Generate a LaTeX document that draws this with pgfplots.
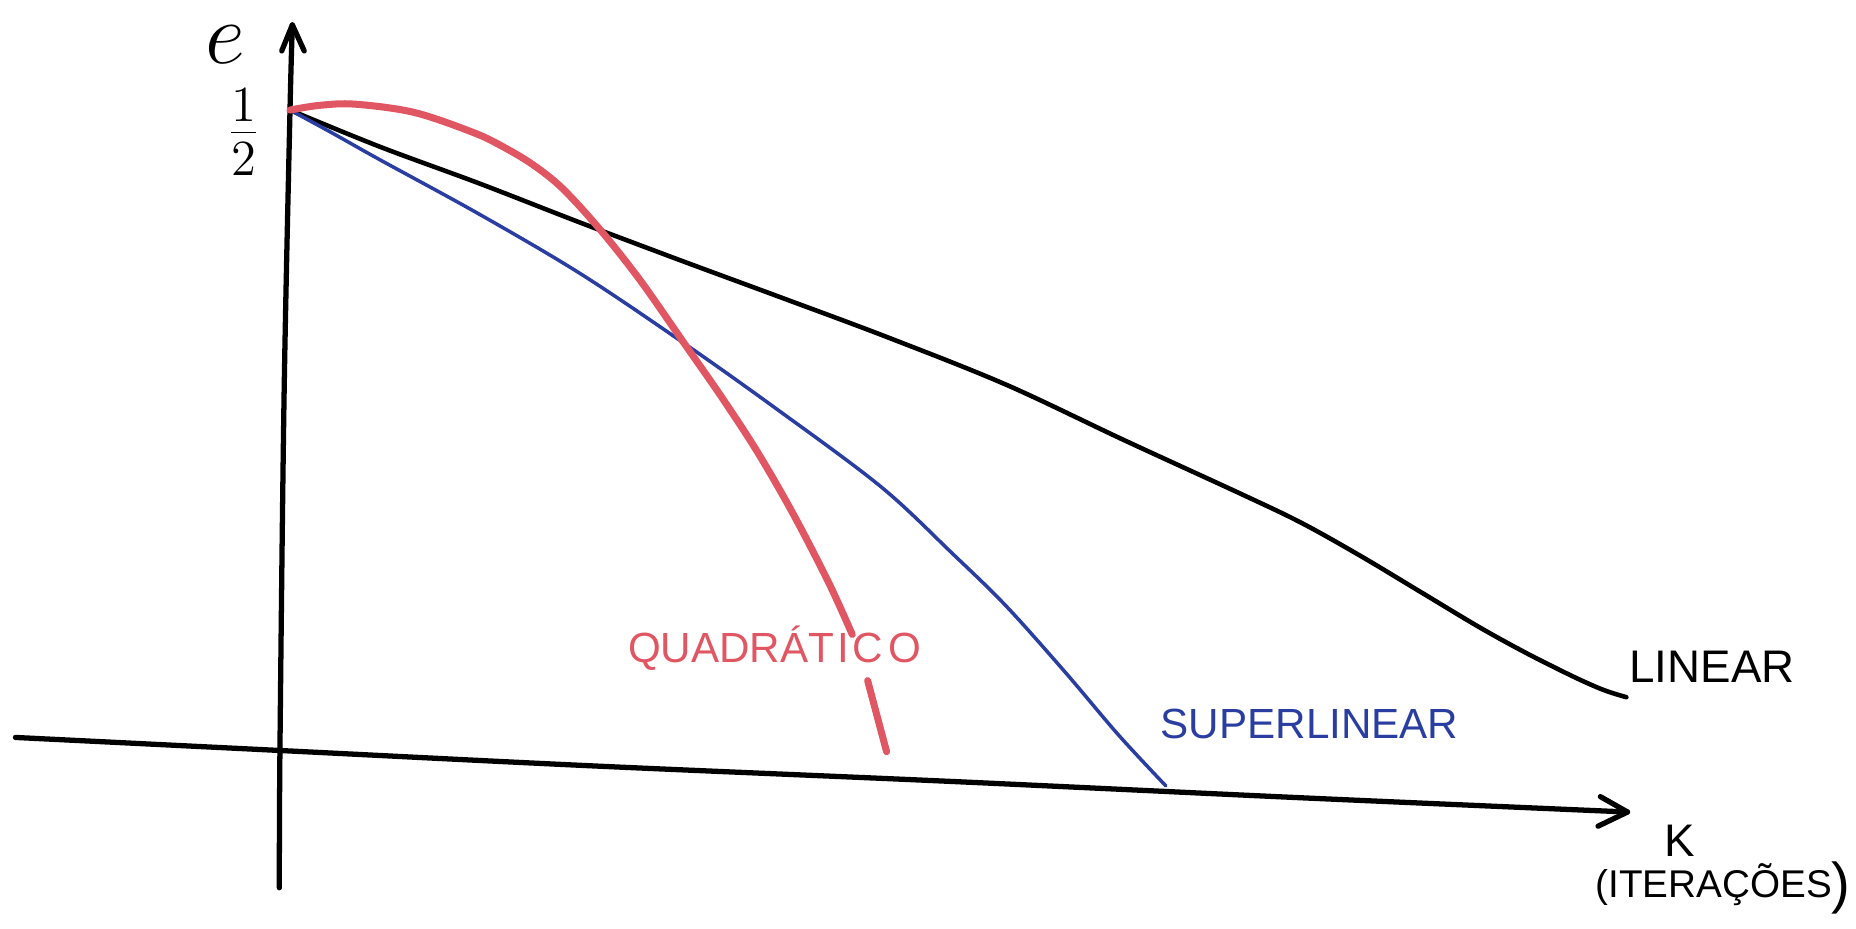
\documentclass[border=0pt]{standalone}
\usepackage{pgfplots}
\pgfplotsset{compat=1.18}
\usepackage{fontspec}
\setmainfont{Liberation Sans}
\definecolor{quadred}{RGB}{224,86,98}
\definecolor{superblue}{RGB}{42,62,162}

\begin{document}
\begin{tikzpicture}
\begin{axis}[
  width=18.56cm, height=9.28cm, scale only axis,
  xmin=0, xmax=1568, ymin=0, ymax=784,
  axis lines=none, clip=false,
  every axis plot/.append style={smooth, tension=0.55, line cap=round, line join=round},
]
\coordinate (bl) at (rel axis cs:0,0);
\coordinate (tr) at (rel axis cs:1,1);

% axes, drawn by hand
\addplot[black, line width=1.5pt] coordinates {(236,34) (236.5,150) (240,450) (245,691) (247,763)};
\addplot[black, line width=1.5pt, sharp plot] coordinates {(238,741) (247,763) (257,741)};
\addplot[black, line width=1.5pt] coordinates {(13,161) (236,150) (500,137) (800,124) (1100,110) (1375,98)};
\addplot[black, line width=1.5pt, sharp plot] coordinates {(1352,111) (1375,98) (1350,86)};

% linear convergence
\addplot[black, line width=1.3pt] coordinates {
  (245,691) (321,660) (405,629) (490,596) (575,564) (659,533)
  (750,499) (850,459) (950,412) (1050,366) (1100,342) (1150,314)
  (1200,284) (1250,254) (1290,232) (1330,212) (1355,201) (1374,195)};
% superlinear convergence
\addplot[superblue, line width=1.0pt] coordinates {
  (245,691) (280,672) (321,649) (405,603) (490,553) (575,496)
  (654,440) (744,373) (805,316) (850,272) (900,216) (945,163) (985,120)};
% quadratic convergence (interrupted by its label)
\addplot[quadred, line width=2pt] coordinates {
  (245,691) (270,695) (300,696) (350,689) (400,672) (425,660)
  (450,645) (475,625) (507,590) (541,547) (578,494) (610,448)
  (640,402) (670,350) (700,292) (720,248)};
\addplot[quadred, line width=2pt] coordinates {(733,209) (741,179) (749,149)};

% labels
\node[font=\fontsize{32}{32}\selectfont, inner sep=0pt] at (axis cs:190,746) {$e$};
\node[font=\fontsize{22}{22}\selectfont, inner sep=0pt] at (axis cs:206,672) {$\frac{1}{2}$};
\node[quadred, font=\fontsize{12}{12}\selectfont, anchor=west, inner sep=0pt] at (axis cs:530,236) {QUADRÁT\kern1pt I\kern1pt C\kern1.5pt O};
\node[superblue, font=\fontsize{12}{12}\selectfont, anchor=west, inner sep=0pt] at (axis cs:980,172) {SUPERLINEAR};
\node[black, font=\fontsize{13}{13}\selectfont, anchor=west, inner sep=0pt] at (axis cs:1376,221) {LINEAR};
\node[black, font=\fontsize{13}{13}\selectfont, inner sep=0pt] at (axis cs:1419,74) {K};
\node[black, font=\fontsize{11}{11}\selectfont, anchor=east, inner sep=0pt] at (axis cs:1564,34) {(ITERAÇÕES\raisebox{-0.25ex}{\fontsize{16}{16}\selectfont)}};
\end{axis}
\pgfresetboundingbox
\useasboundingbox (bl) rectangle (tr);
\end{tikzpicture}
\end{document}
